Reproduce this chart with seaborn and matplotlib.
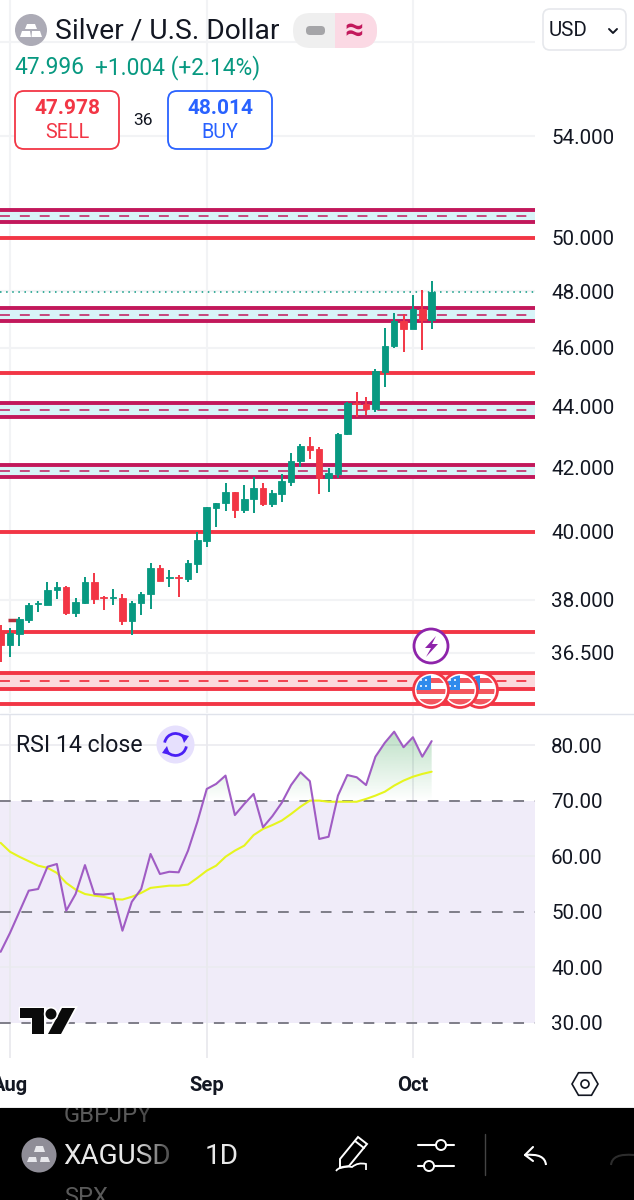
import numpy as np
import pandas as pd
import seaborn as sns
import matplotlib
matplotlib.use("Agg")
import matplotlib.pyplot as plt
from matplotlib.patches import Circle, FancyBboxPatch, Polygon, Rectangle, Arc, RegularPolygon, PathPatch
from matplotlib.path import Path
from matplotlib.colors import to_rgb
import matplotlib.patheffects as pe

# Daily XAG/USD candles, session index 0 is 1 August
sessions = list(range(-1, 46))
opens = [37.10, 36.71, 37.02, 37.41, 37.88, 37.84, 38.27, 38.36, 37.61, 37.90, 38.50, 38.07,
         38.04, 38.04, 37.38, 37.90, 38.15, 38.92, 38.62, 38.65, 38.59, 39.03, 39.72, 40.72,
         40.88, 41.22, 40.66, 41.00, 41.35, 40.85, 41.16, 41.54, 42.21, 42.69, 42.59, 41.66,
         41.79, 43.08, 44.10, 44.07, 43.90, 45.15, 46.05, 46.93, 46.65, 47.37, 46.97]
closes = [36.71, 37.05, 37.44, 37.84, 37.91, 38.27, 38.36, 37.61, 37.92, 38.50, 38.01, 38.04,
          38.07, 37.38, 37.90, 38.15, 38.92, 38.53, 38.65, 38.62, 39.06, 39.75, 40.75, 40.90,
          41.22, 40.66, 41.00, 41.35, 40.85, 41.19, 41.57, 42.21, 42.69, 42.56, 41.66, 41.82,
          43.08, 44.10, 44.07, 43.90, 45.18, 46.05, 46.93, 46.65, 47.37, 46.97, 47.996]
highs = [37.27, 37.18, 37.50, 37.90, 37.95, 38.50, 38.50, 38.39, 38.04, 38.65, 38.77, 38.10,
         38.30, 38.15, 37.95, 38.21, 39.06, 39.00, 38.86, 38.71, 39.15, 39.99, 40.75, 40.90,
         41.50, 41.22, 41.44, 41.70, 41.50, 41.29, 41.79, 42.46, 42.75, 42.98, 42.65, 41.98,
         43.11, 44.13, 44.47, 44.30, 45.25, 46.68, 47.22, 47.18, 47.87, 48.05, 48.37]
lows = [36.25, 36.38, 36.68, 37.33, 37.64, 37.84, 38.01, 37.56, 37.50, 37.87, 37.87, 37.70,
        37.84, 37.27, 36.99, 37.56, 37.73, 38.53, 38.36, 38.07, 38.50, 38.77, 39.54, 40.15,
        40.63, 40.42, 40.57, 40.57, 40.78, 40.75, 40.91, 41.41, 42.02, 42.27, 41.16, 41.22,
        41.66, 43.05, 43.64, 43.70, 43.80, 44.64, 45.98, 45.84, 46.65, 45.91, 46.65]

rsi_values = [42.8, 46.2, 50.0, 53.8, 54.1, 58.1, 58.6, 50.2, 53.2, 58.4, 53.2, 53.1, 53.3,
              46.6, 51.8, 54.1, 60.4, 56.8, 57.2, 57.1, 61.0, 66.2, 72.1, 73.0, 74.5, 67.4,
              69.4, 71.2, 65.2, 67.2, 69.6, 72.8, 75.1, 73.5, 63.1, 63.5, 70.9, 74.6, 74.2,
              72.8, 77.9, 80.4, 82.4, 79.6, 81.4, 77.9, 80.7]
rsi_ma_values = [62.4, 60.8, 59.9, 59.1, 58.3, 57.9, 57.0, 55.2, 54.0, 53.2, 52.9, 52.7, 52.3,
                 52.2, 52.7, 53.4, 54.3, 54.5, 54.7, 54.7, 54.9, 56.1, 57.4, 58.3, 59.9, 61.0,
                 61.9, 63.8, 64.9, 65.6, 66.4, 67.6, 68.9, 70.0, 70.0, 69.8, 69.8, 69.8, 69.8,
                 70.3, 70.9, 71.6, 72.7, 73.6, 74.3, 74.8, 75.2]

# Supply and demand zones: upper edge, midline, lower edge
zone_upper = [51.05, 47.40, 44.10, 42.08]
zone_middle = [50.82, 47.15, 43.87, 41.89]
zone_lower = [50.59, 46.93, 43.64, 41.70]
red_zone = [35.94, 35.72, 35.51]
support_levels = [50.0, 45.12, 40.0, 37.07, 35.11]
last_price = 47.996

price_ticks = [54, 50, 48, 46, 44, 42, 40, 38, 36.5]
price_grid = [58, 54, 50, 48, 46, 44, 42, 40, 38, 36.5]
rsi_ticks = [80, 70, 60, 50, 40, 30]
month_positions = [0, 21, 43]
month_labels = ["Aug", "Sep", "Oct"]

UP = "#089981"
DOWN = "#f23645"
CRIMSON = "#c2185b"
INK = "#131722"
GRID = "#f2f3f5"

sns.set_theme(style="white")
plt.rcParams["font.family"] = ["Roboto", "DejaVu Sans"]

W, H = 634, 1200
fig = plt.figure(figsize=(W / 100, H / 100), dpi=100, facecolor="white")


def pane(left, top, right, bottom, **kw):
    return fig.add_axes([left / W, 1 - bottom / H, (right - left) / W, (bottom - top) / H], **kw)


df = pd.DataFrame({"session": sessions, "open": opens, "high": highs, "low": lows,
                   "close": closes, "rsi": rsi_values, "rsi_ma": rsi_ma_values})
df["color"] = np.where(df["close"] >= df["open"], UP, DOWN)

X_LIMITS = (-1.067, 56.03)

# Price pane
ax = pane(0, 0, 535, 713)
ax.set_yscale("log")
ax.set_xlim(*X_LIMITS)
ax.set_ylim(34.87, 59.87)
for level in price_grid:
    ax.axhline(level, color=GRID, lw=1.5, zorder=0)
for pos in month_positions:
    ax.axvline(pos, color=GRID, lw=1.5, zorder=0)

for up, mid, lo in zip(zone_upper, zone_middle, zone_lower):
    ax.axhspan(lo, up, color="#d8f4f8", lw=0, zorder=1)
    ax.axhline(up, color=CRIMSON, lw=2.8, zorder=2)
    ax.axhline(lo, color=CRIMSON, lw=2.8, zorder=2)
    ax.axhline(mid, color=CRIMSON, lw=1.3, ls=(0, (5.5, 5.5)), alpha=.85, zorder=2)
ax.axhspan(red_zone[2], red_zone[0], color="#fcd9dc", lw=0, zorder=1)
ax.axhline(red_zone[0], color=DOWN, lw=2.8, zorder=2)
ax.axhline(red_zone[2], color=DOWN, lw=2.8, zorder=2)
ax.axhline(red_zone[1], color=DOWN, lw=1.3, ls=(0, (5.5, 5.5)), zorder=2)
for level in support_levels:
    ax.axhline(level, color=DOWN, lw=2.8, zorder=2)
ax.axhline(last_price, color=UP, lw=1.1, ls=(0, (1, 3)), zorder=2)
ax.hlines(37.41, -0.2, 0.85, color="#b5303c", lw=2.5, zorder=3)

ax.vlines(df["session"], df["low"], df["high"], colors=df["color"], lw=1.4, zorder=4)
ax.bar(df["session"], (df["close"] - df["open"]).abs(),
       bottom=df[["open", "close"]].min(axis=1), width=0.7,
       color=df["color"], edgecolor=df["color"], lw=0.6, zorder=5)

ax.set_yticks(price_ticks)
ax.set_yticklabels([f"{t:.3f}" for t in price_ticks])
ax.minorticks_off()
ax.yaxis.tick_right()
ax.tick_params(axis="y", length=0, pad=11.6, labelsize=14.9, labelcolor=INK, which="both")
ax.set_xticks([])
ax.set_xlabel("")
ax.set_ylabel("")
sns.despine(ax=ax, left=True, right=True, top=True, bottom=True)
ax.patch.set_alpha(0)

# RSI pane
ar = pane(0, 715, 535, 1058)
ar.set_xlim(*X_LIMITS)
ar.set_ylim(23.7, 85.4)
ar.axhspan(30, 70, color="#f0ecf9", lw=0, zorder=0)
for level in [80, 60, 40]:
    ar.axhline(level, color="#ebebf0", lw=1.2, zorder=1)
for pos in month_positions:
    ar.axvline(pos, color="#e9e9ee", lw=1.3, zorder=1)
for level in [70, 50, 30]:
    ar.axhline(level, color="#7e7d88", lw=1.4, ls=(0, (5.5, 5.5)), zorder=2)

# Green shading where RSI sits above the overbought band
over = ar.fill_between(df["session"], df["rsi"], 70, where=df["rsi"] >= 70, interpolate=True,
                       facecolor="none", lw=0)
shade_rgba = np.zeros((64, 2, 4))
shade_rgba[..., :3] = to_rgb("#3fa65a")
shade_rgba[..., 3] = np.linspace(0.36, 0, 64)[:, None]
im = ar.imshow(shade_rgba, extent=(df["session"].min(), df["session"].max(), 70, 83),
               aspect="auto", origin="upper", zorder=2, interpolation="bilinear")
im.set_clip_path(Path.make_compound_path(*over.get_paths()), transform=ar.transData)

sns.lineplot(data=df, x="session", y="rsi_ma", color="#e6f51e", lw=1.5, ax=ar, zorder=3,
             errorbar=None)
sns.lineplot(data=df, x="session", y="rsi", color="#a05cc4", lw=1.5, ax=ar, zorder=4,
             errorbar=None)
ar.set_xlim(*X_LIMITS)
ar.set_ylim(23.7, 85.4)
ar.set_yticks(rsi_ticks)
ar.set_yticklabels([f"{t:.2f}" for t in rsi_ticks])
ar.yaxis.tick_right()
ar.tick_params(axis="y", length=0, pad=11.6, labelsize=14.9, labelcolor=INK)
ar.set_xticks(month_positions)
ar.set_xticklabels(month_labels, fontweight="bold")
ar.tick_params(axis="x", length=0, pad=13, labelsize=14.5, labelcolor=INK)
ar.set_xlabel("")
ar.set_ylabel("")
sns.despine(ax=ar, left=True, right=True, top=True, bottom=True)
ar.patch.set_alpha(0)

# Chart furniture drawn in screen pixels
ui = fig.add_axes([0, 0, 1, 1], zorder=10)
ui.set_xlim(0, W)
ui.set_ylim(H, 0)
ui.axis("off")
ui.patch.set_alpha(0)


def box(x0, y0, x1, y1, r, fc="white", ec="none", lw=1.0, **kw):
    p = FancyBboxPatch((x0 + r, y0 + r), x1 - x0 - 2 * r, y1 - y0 - 2 * r,
                       boxstyle=f"round,pad={r},rounding_size={r}", fc=fc, ec=ec, lw=lw, **kw)
    ui.add_patch(p)
    return p


ui.plot([0, W], [714, 714], color="#e0e3eb", lw=1.0)

# Symbol header
ui.add_patch(Circle((31, 30), 16, fc="#acabb6", ec="none"))
for pts in ([(27, 24), (35, 24), (37, 29), (25, 29)],
            [(22, 31), (30, 31), (31, 37), (20, 37)],
            [(32, 31), (40, 31), (42, 37), (31.5, 37)]):
    ui.add_patch(Polygon(pts, fc="white", ec="none"))
ui.text(55, 31, "Silver / U.S. Dollar", fontsize=20.3, color=INK, va="center", ha="left")
ui.text(14, 67.5, "47.996", fontsize=16.4, color=UP, va="center", ha="left")
ui.text(95, 67.5, "+1.004 (+2.14%)", fontsize=16.4, color=UP, va="center", ha="left")

pill = box(293, 13, 377, 48, 17.5, fc="#efefef")
right = Rectangle((335, 13), 42, 35, fc="#fbd9e4", ec="none")
ui.add_patch(right)
right.set_clip_path(pill)
box(306, 26, 325, 35, 4, fc="#a5a5a8")
ui.text(354, 31, "≈", fontsize=24, color=CRIMSON, ha="center", va="center", fontweight="bold")

box(15, 91, 119, 149, 9, ec=DOWN, lw=1.3)
ui.text(67, 108.5, "47.978", fontsize=15, fontweight="bold", color=DOWN, ha="center", va="center")
ui.text(67, 132, "SELL", fontsize=14.2, color=DOWN, ha="center", va="center")
ui.text(143, 120.5, "36", fontsize=12.5, color=INK, ha="center", va="center")
box(168, 91, 272, 149, 9, ec="#2962ff", lw=1.3)
ui.text(220, 108.5, "48.014", fontsize=15, fontweight="bold", color="#2962ff", ha="center", va="center")
ui.text(220, 132, "BUY", fontsize=14.2, color="#2962ff", ha="center", va="center")

box(543, 9, 626, 50, 7, ec="#e6e8ec", lw=1.2)
ui.text(549, 30.5, "USD", fontsize=14.8, color=INK, ha="left", va="center")
ui.plot([609, 613, 617], [29, 33, 29], color=INK, lw=1.4)

# Economic event markers
ui.add_patch(Circle((431, 646), 17, fc="white", ec="#8e24aa", lw=2))
ui.add_patch(Polygon([(436, 636), (425, 648), (431, 648), (426, 657), (438, 644), (432, 644)],
                     fc="#8e24aa", ec="none"))
for cx in (480, 460, 431):
    ui.add_patch(Circle((cx, 690), 17.5, fc="white", ec=DOWN, lw=2))
    disc = Circle((cx, 690), 14.5, transform=ui.transData)
    for top, bottom in ((678, 683), (689, 694), (699, 705)):
        s = Rectangle((cx - 15, top), 30, bottom - top, fc="#f4565f", ec="none")
        ui.add_patch(s)
        s.set_clip_path(disc)
    c = Rectangle((cx - 15, 675), 15, 15, fc="#2f8bec", ec="none")
    ui.add_patch(c)
    c.set_clip_path(disc)
    for dx, dy in ((-10, 680), (-5, 680), (-10, 686), (-5, 686)):
        ui.add_patch(Circle((cx + dx, dy), 1, fc="white", ec="none"))

# RSI legend
ui.text(16, 745, "RSI 14 close", fontsize=16.7, color=INK, ha="left", va="center")
ui.add_patch(Circle((175.5, 744.5), 19, fc="#e6e0fd", ec="none"))
ui.add_patch(Arc((175.5, 744.5), 22, 22, theta1=190, theta2=335, color="#4a20f5", lw=2))
ui.add_patch(Arc((175.5, 744.5), 22, 22, theta1=10, theta2=155, color="#4a20f5", lw=2))
ui.add_patch(Polygon([(181, 734), (189, 736), (184, 743)], fc="#4a20f5", ec="none"))
ui.add_patch(Polygon([(170, 755), (162, 753), (167, 746)], fc="#4a20f5", ec="none"))

# Platform logo
logo_halo = [pe.withStroke(linewidth=2.5, foreground="white")]
for shape in ([(20, 1008), (44, 1008), (44, 1034), (32, 1034), (32, 1018), (20, 1018)],
              [(62, 1008), (75, 1008), (61, 1034), (48, 1034)]):
    ui.add_patch(Polygon(shape, fc="#0a0a0a", ec="none", path_effects=logo_halo))
ui.add_patch(Circle((51, 1014), 5.5, fc="#0a0a0a", ec="none", path_effects=logo_halo))

# Axis settings hexagon
ui.add_patch(RegularPolygon((585, 1084), 6, radius=13, orientation=np.pi / 6, fc="none", ec=INK, lw=1.2))
ui.add_patch(Circle((585, 1084), 4, fc="none", ec=INK, lw=1.2))

# Toolbar strip
bar = fig.add_axes([0, 0, 1, 92 / H], zorder=11, facecolor="black")
bar.set_xlim(0, W)
bar.set_ylim(H, 1108)
bar.set_xticks([])
bar.set_yticks([])
for sp in bar.spines.values():
    sp.set_visible(False)
ui.plot([0, W], [1107.5, 1107.5], color="#9a9a9a", lw=1)

bar.text(64, 1115, "GBPJPY", fontsize=17, color="#5a5a5a", ha="left", va="center", clip_on=True)
bar.text(64, 1197, "SPX", fontsize=17, color="#5a5a5a", ha="left", va="center", clip_on=True)
bar.add_patch(Circle((39, 1155), 17.5, fc="#8f8d97", ec="none"))
for pts in ([(36, 1146), (43, 1146), (45, 1152), (34, 1152)],
            [(29, 1157), (36, 1157), (37, 1162), (27, 1162)],
            [(41, 1157), (48, 1157), (50, 1162), (40, 1162)]):
    bar.add_patch(Polygon(pts, fc="#e8e8ec", ec="none"))
bar.text(63, 1156.5, "XAGUSD", fontsize=20.2, color="#e8e8e8", ha="left", va="center")
fade = np.zeros((2, 64, 4))
fade[..., 3] = np.linspace(0, 0.85, 64)
bar.imshow(fade, extent=(135, 178, 1200, 1108), aspect="auto", zorder=5)
bar.set_xlim(0, W)
bar.set_ylim(H, 1108)
bar.text(205, 1156.5, "1D", fontsize=20.2, color="#e8e8e8", ha="left", va="center")

# Pencil
bar.add_patch(Polygon([(340, 1159), (358, 1137), (367, 1144), (349, 1166), (340, 1168)],
                      fc="none", ec="white", lw=1.4))
bar.plot([355, 364], [1141, 1148], color="white", lw=1.4)
squiggle = Path([(336, 1171), (340, 1165), (352, 1167), (358, 1162), (366, 1164), (366, 1170)],
                [Path.MOVETO, Path.CURVE3, Path.CURVE3, Path.CURVE3, Path.CURVE3, Path.LINETO])
bar.add_patch(PathPatch(squiggle, fc="none", ec="white", lw=1.3))

# Sliders
bar.plot([418, 454], [1145, 1145], color="white", lw=1.5)
bar.plot([418, 454], [1166, 1166], color="white", lw=1.5)
bar.add_patch(Circle((441, 1145), 5, fc="black", ec="white", lw=1.4, zorder=3))
bar.add_patch(Circle((429, 1166), 5, fc="black", ec="white", lw=1.4, zorder=3))
bar.plot([485, 485], [1134, 1175], color="#444444", lw=1)

# Undo and redo
bar.plot([525, 533], [1155, 1147], color="white", lw=1.5)
bar.plot([525, 533], [1155, 1161], color="white", lw=1.5)
bar.add_patch(PathPatch(Path([(525, 1155), (545, 1153), (546, 1165)],
                             [Path.MOVETO, Path.CURVE3, Path.CURVE3]), fc="none", ec="white", lw=1.5))
bar.add_patch(PathPatch(Path([(634, 1155), (612, 1153), (611, 1165)],
                             [Path.MOVETO, Path.CURVE3, Path.CURVE3]), fc="none", ec="#2c2c2c", lw=1.5))

fig.savefig("out.png", dpi=100, facecolor="white")
